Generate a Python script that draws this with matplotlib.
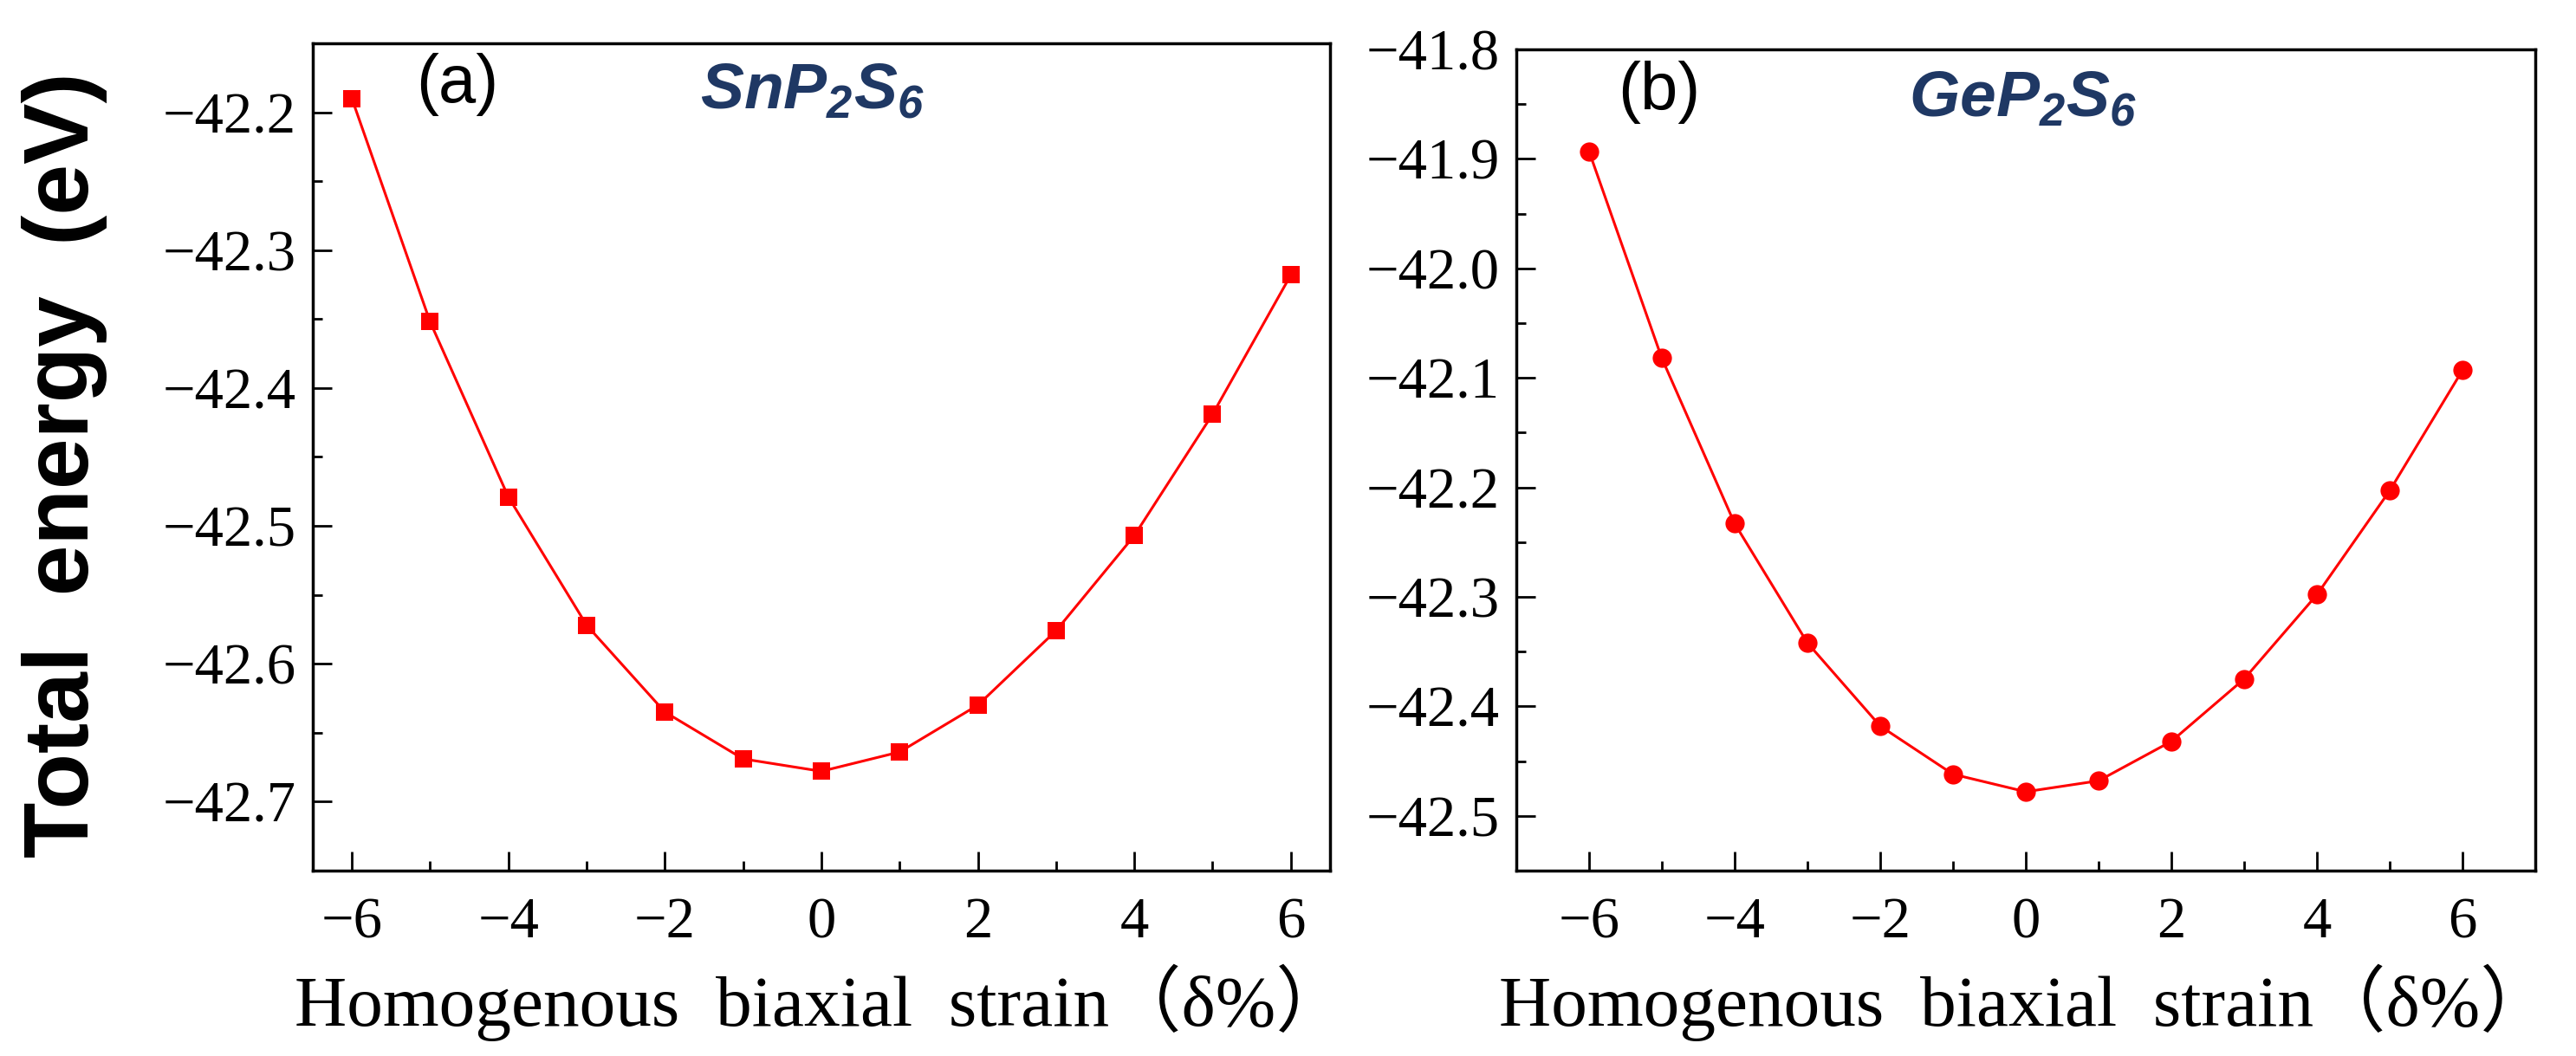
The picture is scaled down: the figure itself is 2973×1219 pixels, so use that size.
"""Total energy vs homogenous biaxial strain for SnP2S6 and GeP2S6."""

import matplotlib
matplotlib.use("Agg")
import matplotlib.pyplot as plt
from matplotlib.ticker import MultipleLocator, FuncFormatter

SERIF = ["Liberation Serif", "Noto Sans CJK SC", "DejaVu Serif"]
plt.rcParams["font.family"] = SERIF
plt.rcParams["mathtext.fontset"] = "custom"
plt.rcParams["mathtext.rm"] = "Liberation Sans:bold:italic"
plt.rcParams["mathtext.it"] = "Liberation Sans:bold:italic"

strain = [-6, -5, -4, -3, -2, -1, 0, 1, 2, 3, 4, 5, 6]
energy_sn = [-42.190, -42.352, -42.479, -42.572, -42.635, -42.669, -42.678,
             -42.664, -42.630, -42.576, -42.507, -42.419, -42.318]
energy_ge = [-41.893, -42.082, -42.233, -42.342, -42.418, -42.462, -42.478,
             -42.468, -42.432, -42.375, -42.298, -42.203, -42.093]

RED = "#ff0000"
NAVY = "#1f3864"


def minus_fmt(fmt):
    return FuncFormatter(lambda v, pos: (fmt % v).replace("-", "\u2212"))


def style_axes(ax, xlim, ylim):
    ax.set_xlim(*xlim)
    ax.set_ylim(*ylim)
    ax.xaxis.set_major_locator(MultipleLocator(2))
    ax.xaxis.set_minor_locator(MultipleLocator(1))
    ax.yaxis.set_major_locator(MultipleLocator(0.1))
    ax.yaxis.set_minor_locator(MultipleLocator(0.05))
    ax.xaxis.set_major_formatter(minus_fmt("%d"))
    ax.yaxis.set_major_formatter(minus_fmt("%.1f"))
    ax.tick_params(which="both", direction="in", top=False, right=False,
                   width=2, labelsize=48)
    ax.tick_params(axis="x", pad=22)
    ax.tick_params(axis="y", pad=14)
    ax.tick_params(which="major", length=16)
    ax.tick_params(which="minor", length=8)
    for sp in ax.spines.values():
        sp.set_linewidth(2.5)
    ax.set_xlabel("Homogenous  biaxial  strain\uff08\u03b4%\uff09",
                  fontsize=60, labelpad=12)


fig = plt.figure(figsize=(29.73, 12.19), dpi=100)
ax1 = fig.add_axes([0.1214, 0.1756, 0.3949, 0.7834])
ax2 = fig.add_axes([0.5886, 0.1756, 0.3956, 0.7776])

ax1.plot(strain, energy_sn, color=RED, linewidth=2.2, marker="s",
         markersize=15, markeredgewidth=0)
style_axes(ax1, (-6.5, 6.5), (-42.75, -42.15))
ax1.text(0.142, 0.95, "(a)", transform=ax1.transAxes, fontsize=56,
         family="Liberation Sans", ha="center", va="center")
ax1.text(0.491, 0.94, r"$SnP_2S_6$", transform=ax1.transAxes, fontsize=54,
         color=NAVY, ha="center", va="center")

ax2.plot(strain, energy_ge, color=RED, linewidth=2.2, marker="o",
         markersize=16, markeredgewidth=0)
style_axes(ax2, (-7, 7), (-42.55, -41.8))
ax2.text(0.140, 0.948, "(b)", transform=ax2.transAxes, fontsize=56,
         family="Liberation Sans", ha="center", va="center")
ax2.text(0.497, 0.938, r"$GeP_2S_6$", transform=ax2.transAxes, fontsize=54,
         color=NAVY, ha="center", va="center")

fig.text(0.025, 0.56, "Total  energy  (eV)", rotation=90, fontsize=76,
         fontweight="bold", family="Liberation Sans", ha="center", va="center")

fig.savefig("out.png", dpi=100)
